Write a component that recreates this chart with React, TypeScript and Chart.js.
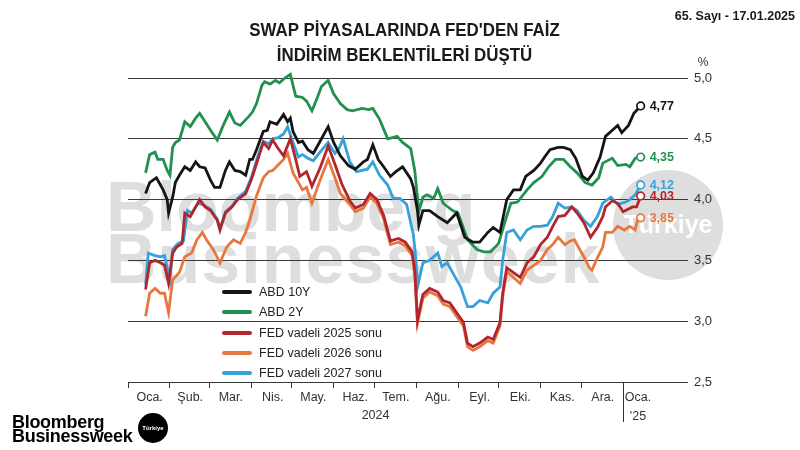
import React, { useEffect, useRef } from "react";
import { Chart, registerables } from "chart.js";

Chart.register(...registerables);

const FONT = '"Liberation Sans", Arial, Helvetica, sans-serif';

// ---- x axis: days since 1 Jan 2024 ----
const monthLabels = ["Oca.", "Şub.", "Mar.", "Nis.", "May.", "Haz.", "Tem.", "Ağu.", "Eyl.", "Eki.", "Kas.", "Ara."];
const monthStartDays = [0, 31, 60, 91, 121, 152, 182, 213, 244, 274, 305, 335];
const monthMidDays = [16, 46, 76, 107, 137, 168, 198, 229, 260, 290, 321, 351];
const nextYearLabel = ["Oca.", "'25"];
const nextYearStartDay = 366;
const nextYearLabelDay = 377;
const yearLabel = "2024";
const yearLabelDay = 183;
const xMaxDay = 414;

// ---- y axis ----
const yTickValues = [2.5, 3.0, 3.5, 4.0, 4.5, 5.0];

// ---- series (day, value) ----
const us10yDays = [13, 16, 21, 24, 26, 29, 30, 33, 35, 38, 42, 46, 50, 53, 57, 61, 64, 68, 72, 75, 79, 83, 87, 90, 92, 95, 100, 103, 105, 110, 115, 118, 120, 122, 126, 129, 133, 137, 142, 148, 152, 157, 163, 168, 174, 177, 181, 185, 189, 194, 198, 203, 209, 211, 214, 215, 218, 223, 229, 236, 243, 249, 255, 260, 266, 270, 275, 280, 285, 290, 294, 300, 305, 308, 312, 318, 322, 327, 331, 336, 340, 344, 349, 353, 357, 362, 365, 370, 374, 379];
const us10yValues = [4.05, 4.14, 4.18, 4.12, 4.08, 4.0, 3.89, 4.02, 4.14, 4.2, 4.27, 4.24, 4.31, 4.27, 4.26, 4.16, 4.1, 4.1, 4.24, 4.31, 4.24, 4.23, 4.2, 4.33, 4.33, 4.41, 4.56, 4.57, 4.64, 4.62, 4.7, 4.64, 4.67, 4.56, 4.47, 4.48, 4.41, 4.38, 4.48, 4.6, 4.47, 4.36, 4.28, 4.25, 4.31, 4.33, 4.45, 4.33, 4.27, 4.19, 4.23, 4.27, 4.17, 4.1, 3.91, 3.79, 3.91, 3.91, 3.86, 3.81, 3.89, 3.69, 3.65, 3.65, 3.73, 3.77, 3.73, 4.0, 4.08, 4.08, 4.19, 4.24, 4.3, 4.35, 4.41, 4.43, 4.43, 4.41, 4.34, 4.19, 4.16, 4.22, 4.35, 4.52, 4.56, 4.61, 4.55, 4.61, 4.71, 4.77];

const us2yDays = [13, 16, 20, 22, 26, 29, 31, 33, 35, 38, 42, 46, 50, 53, 57, 61, 66, 70, 75, 79, 83, 89, 92, 95, 99, 101, 105, 109, 112, 116, 120, 124, 129, 132, 136, 140, 143, 148, 152, 157, 162, 166, 173, 178, 181, 186, 192, 199, 203, 209, 212, 215, 218, 221, 226, 229, 233, 240, 244, 251, 258, 263, 268, 274, 279, 283, 288, 295, 300, 306, 311, 316, 322, 327, 332, 338, 343, 348, 351, 358, 362, 368, 371, 375, 379];
const us2yValues = [4.22, 4.37, 4.39, 4.33, 4.33, 4.24, 4.2, 4.43, 4.47, 4.49, 4.64, 4.6, 4.67, 4.71, 4.64, 4.57, 4.49, 4.6, 4.72, 4.63, 4.61, 4.68, 4.72, 4.79, 4.94, 4.97, 4.95, 4.98, 4.96, 5.0, 5.03, 4.85, 4.84, 4.81, 4.73, 4.84, 4.93, 4.98, 4.87, 4.79, 4.74, 4.73, 4.75, 4.74, 4.75, 4.66, 4.5, 4.52, 4.47, 4.42, 4.24, 3.9, 4.02, 4.04, 4.01, 4.09, 3.97, 3.91, 3.89, 3.67, 3.59, 3.57, 3.57, 3.64, 3.83, 3.97, 3.98, 4.08, 4.14, 4.19, 4.27, 4.33, 4.33, 4.27, 4.22, 4.14, 4.12, 4.18, 4.3, 4.34, 4.28, 4.29, 4.27, 4.34, 4.35];

const fed2025Days = [13, 16, 20, 24, 27, 30, 33, 36, 40, 42, 46, 50, 53, 57, 61, 66, 68, 72, 77, 81, 87, 90, 92, 96, 100, 104, 107, 111, 115, 120, 124, 127, 132, 136, 142, 148, 153, 158, 164, 168, 174, 179, 184, 189, 194, 200, 205, 210, 212, 214, 218, 223, 229, 233, 238, 243, 248, 251, 255, 260, 266, 270, 275, 277, 280, 285, 290, 295, 300, 305, 310, 314, 318, 323, 328, 332, 337, 342, 347, 351, 353, 358, 362, 366, 373, 376, 379];
const fed2025Values = [3.26, 3.48, 3.5, 3.48, 3.46, 3.31, 3.56, 3.61, 3.64, 3.89, 3.86, 3.94, 4.0, 3.94, 3.91, 3.83, 3.75, 3.89, 3.94, 4.0, 4.05, 4.13, 4.19, 4.33, 4.47, 4.42, 4.49, 4.42, 4.36, 4.5, 4.33, 4.19, 4.23, 4.11, 4.26, 4.44, 4.29, 4.13, 3.99, 3.93, 3.96, 4.05, 4.0, 3.87, 3.66, 3.68, 3.65, 3.57, 3.42, 3.01, 3.22, 3.27, 3.24, 3.17, 3.15, 3.07, 2.99, 2.82, 2.79, 2.82, 2.87, 2.85, 2.99, 3.23, 3.44, 3.4, 3.36, 3.48, 3.53, 3.63, 3.69, 3.78, 3.86, 3.87, 3.94, 3.89, 3.81, 3.69, 3.77, 3.86, 3.94, 3.99, 3.97, 3.9, 3.94, 3.94, 4.03];

const fed2026Days = [13, 16, 20, 24, 27, 30, 33, 38, 42, 47, 51, 55, 58, 63, 68, 73, 78, 83, 87, 90, 95, 100, 104, 107, 115, 118, 122, 129, 132, 136, 142, 148, 153, 157, 164, 168, 174, 179, 184, 189, 194, 200, 205, 210, 212, 214, 218, 223, 229, 233, 238, 243, 248, 251, 255, 260, 266, 270, 275, 277, 280, 285, 290, 295, 300, 305, 310, 314, 318, 323, 327, 330, 334, 337, 341, 343, 347, 351, 353, 358, 362, 367, 371, 375, 377, 379];
const fed2026Values = [3.04, 3.23, 3.27, 3.23, 3.23, 3.07, 3.34, 3.4, 3.53, 3.56, 3.67, 3.73, 3.67, 3.59, 3.48, 3.61, 3.67, 3.64, 3.73, 3.83, 4.03, 4.18, 4.23, 4.24, 4.33, 4.38, 4.22, 4.08, 4.1, 3.97, 4.16, 4.33, 4.18, 4.05, 3.96, 3.9, 3.93, 4.02, 3.97, 3.84, 3.63, 3.65, 3.62, 3.54, 3.39, 2.98, 3.19, 3.24, 3.21, 3.14, 3.12, 3.04, 2.96, 2.79, 2.76, 2.79, 2.84, 2.82, 2.96, 3.2, 3.41, 3.36, 3.31, 3.42, 3.46, 3.5, 3.59, 3.63, 3.69, 3.63, 3.66, 3.67, 3.59, 3.53, 3.44, 3.42, 3.52, 3.61, 3.73, 3.73, 3.78, 3.75, 3.78, 3.75, 3.85, 3.85];

const fed2027Days = [13, 15, 20, 24, 27, 31, 33, 37, 41, 44, 47, 52, 57, 61, 66, 68, 72, 77, 81, 87, 90, 92, 96, 100, 104, 107, 111, 115, 118, 122, 126, 129, 133, 137, 142, 148, 153, 156, 159, 164, 169, 177, 181, 186, 192, 196, 201, 206, 211, 213, 214, 218, 223, 229, 232, 236, 240, 246, 251, 255, 260, 266, 270, 275, 277, 280, 285, 290, 295, 300, 305, 310, 314, 318, 323, 328, 332, 337, 342, 347, 351, 357, 362, 368, 371, 375, 379];
const fed2027Values = [3.3, 3.56, 3.54, 3.53, 3.54, 3.34, 3.59, 3.64, 3.66, 3.91, 3.89, 3.97, 3.95, 3.92, 3.84, 3.76, 3.9, 3.95, 4.01, 4.07, 4.15, 4.21, 4.36, 4.48, 4.46, 4.5, 4.51, 4.54, 4.6, 4.47, 4.35, 4.37, 4.34, 4.32, 4.39, 4.47, 4.38, 4.42, 4.5, 4.31, 4.23, 4.25, 4.31, 4.2, 4.12, 4.01, 4.01, 3.96, 3.71, 3.49, 3.28, 3.48, 3.5, 3.56, 3.45, 3.48, 3.4, 3.28, 3.12, 3.12, 3.17, 3.15, 3.23, 3.28, 3.5, 3.73, 3.75, 3.67, 3.75, 3.78, 3.78, 3.79, 3.86, 3.97, 3.93, 3.94, 3.91, 3.83, 3.78, 3.86, 3.97, 4.02, 3.96, 3.98, 4.0, 4.04, 4.12];

const seriesNames = ["ABD 10Y", "ABD 2Y", "FED vadeli 2025 sonu", "FED vadeli 2026 sonu", "FED vadeli 2027 sonu"];
const seriesColors = ["#151515", "#22904e", "#b3252d", "#e8773f", "#35a2d9"];
const seriesDays = [us10yDays, us2yDays, fed2025Days, fed2026Days, fed2027Days];
const seriesValues = [us10yValues, us2yValues, fed2025Values, fed2026Values, fed2027Values];

const fmt = (v: number, d: number) => v.toFixed(d).replace(".", ",");

export default function App() {
  const canvasRef = useRef<HTMLCanvasElement | null>(null);

  useEffect(() => {
    document.body.style.margin = "0";
    const canvas = canvasRef.current;
    if (!canvas) return;

    const boundarySet = new Set<number>(monthStartDays);
    const labelMap = new Map<number, string | string[]>();
    monthMidDays.forEach((d, i) => labelMap.set(d, monthLabels[i]));
    labelMap.set(nextYearLabelDay, nextYearLabel);
    const allTicks = [...monthStartDays, ...monthMidDays, nextYearLabelDay].sort((a, b) => a - b);

    const datasets = seriesNames.map((name, i) => {
      const days = seriesDays[i];
      const vals = seriesValues[i];
      const last = days.length - 1;
      return {
        label: name,
        data: days.map((d, j) => ({ x: d, y: vals[j] })),
        borderColor: seriesColors[i],
        backgroundColor: seriesColors[i],
        borderWidth: 2.8,
        tension: 0,
        clip: false as any,
        pointRadius: (c: any) => (c.dataIndex === last ? 3.8 : 0),
        pointBackgroundColor: "#ffffff",
        pointBorderColor: seriesColors[i],
        pointBorderWidth: 1.7,
        pointHoverRadius: 0,
      };
    });

    const extras = {
      id: "extras",
      beforeDraw(chart: any) {
        const { ctx } = chart;
        ctx.save();
        ctx.fillStyle = "#dedede";
        ctx.font = `bold 70px ${FONT}`;
        ctx.textAlign = "left";
        ctx.textBaseline = "alphabetic";
        ctx.fillText("Bloomberg", 106, 231);
        (ctx as any).letterSpacing = "1px";
        ctx.fillText("Businessweek", 106, 283);
        (ctx as any).letterSpacing = "0px";
        ctx.beginPath();
        ctx.arc(668, 225, 55, 0, Math.PI * 2);
        ctx.fill();
        ctx.fillStyle = "#ffffff";
        ctx.font = `bold 25px ${FONT}`;
        ctx.textAlign = "center";
        ctx.textBaseline = "middle";
        ctx.fillText("Türkiye", 668, 226);
        ctx.restore();
      },
      afterDatasetsDraw(chart: any) {
        const { ctx } = chart;
        ctx.save();
        ctx.font = `bold 12.5px ${FONT}`;
        ctx.textAlign = "left";
        ctx.textBaseline = "middle";
        chart.data.datasets.forEach((ds: any, i: number) => {
          const meta = chart.getDatasetMeta(i);
          const pt = meta.data[meta.data.length - 1];
          const v = seriesValues[i][seriesValues[i].length - 1];
          ctx.fillStyle = ds.borderColor;
          ctx.fillText(fmt(v, 2), pt.x + 9, pt.y + 1);
        });
        ctx.restore();
      },
      afterDraw(chart: any) {
        const { ctx, chartArea, scales } = chart;
        ctx.save();
        ctx.fillStyle = "#333";
        ctx.font = `12px ${FONT}`;
        ctx.textAlign = "center";
        ctx.textBaseline = "middle";
        ctx.fillText("%", chartArea.right + 15, chartArea.top - 15);
        ctx.font = `12.5px ${FONT}`;
        ctx.fillText(yearLabel, scales.x.getPixelForValue(yearLabelDay), chartArea.bottom + 34);
        const sx = Math.round(scales.x.getPixelForValue(nextYearStartDay)) + 0.5;
        ctx.strokeStyle = "#333";
        ctx.lineWidth = 1;
        ctx.beginPath();
        ctx.moveTo(sx, chartArea.bottom);
        ctx.lineTo(sx, chartArea.bottom + 40);
        ctx.stroke();
        ctx.restore();
      },
    };

    const chart = new Chart(canvas, {
      type: "line",
      data: { datasets: datasets as any },
      options: {
        responsive: false,
        animation: false,
        events: [],
        layout: { padding: { left: 128, top: 78, right: 0, bottom: 0 } },
        plugins: { legend: { display: false }, tooltip: { enabled: false } },
        scales: {
          x: {
            type: "linear",
            position: "bottom",
            min: 0,
            max: xMaxDay,
            afterBuildTicks: (s: any) => {
              s.ticks = allTicks.map((v) => ({ value: v }));
            },
            afterFit: (s: any) => {
              s.height = 68;
            },
            border: { display: false },
            grid: {
              display: true,
              drawOnChartArea: false,
              drawTicks: true,
              tickLength: 6,
              tickWidth: 1,
              tickColor: (c: any) => (c.tick && boundarySet.has(c.tick.value) ? "#333" : "rgba(0,0,0,0)"),
            },
            ticks: {
              autoSkip: false,
              maxRotation: 0,
              minRotation: 0,
              padding: 0,
              color: "#333",
              font: { family: FONT, size: 12.5, lineHeight: 1.5 },
              callback: (v: any) => (labelMap.has(v) ? (labelMap.get(v) as any) : ""),
            },
          },
          y: {
            type: "linear",
            position: "right",
            min: 2.5,
            max: 5.0,
            afterBuildTicks: (s: any) => {
              s.ticks = yTickValues.map((v) => ({ value: v }));
            },
            afterFit: (s: any) => {
              s.width = 112;
            },
            border: { display: false },
            grid: { color: "#3a3a3a", lineWidth: 1, drawTicks: false },
            ticks: {
              padding: 6,
              color: "#333",
              font: { family: FONT, size: 13 },
              callback: (v: any) => fmt(Number(v), 1),
            },
          },
        },
      },
      plugins: [extras],
    });

    return () => chart.destroy();
  }, []);

  return (
    <div style={{ position: "relative", width: 800, height: 450, overflow: "hidden", background: "#ffffff", fontFamily: FONT }}>
      <canvas ref={canvasRef} width={800} height={450} style={{ position: "absolute", left: 0, top: 0, width: 800, height: 450 }} />
      <div style={{ position: "absolute", left: 0, top: 17, width: 810, textAlign: "center", fontWeight: 700, fontSize: 19, lineHeight: "25px", color: "#1a1a1a" }}>
        <div style={{ display: "inline-block", transform: "scaleX(0.89)", whiteSpace: "nowrap" }}>
          SWAP PİYASALARINDA FED'DEN FAİZ
          <br />
          İNDİRİM BEKLENTİLERİ DÜŞTÜ
        </div>
      </div>
      <div style={{ position: "absolute", right: 5, top: 9, fontWeight: 700, fontSize: 12.5, color: "#1a1a1a", whiteSpace: "nowrap" }}>
        65. Sayı - 17.01.2025
      </div>
      <div style={{ position: "absolute", left: 222, top: 282, fontSize: 12.5, color: "#222" }}>
        {seriesNames.map((n, i) => (
          <div key={n} style={{ height: 20.25, display: "flex", alignItems: "center", whiteSpace: "nowrap" }}>
            <span style={{ display: "inline-block", width: 30, height: 4, borderRadius: 2, background: seriesColors[i], marginRight: 7 }} />
            {n}
          </div>
        ))}
      </div>
      <div style={{ position: "absolute", left: 12, top: 415, fontWeight: 700, fontSize: 18, lineHeight: "14px", letterSpacing: "-0.3px", color: "#000" }}>
        Bloomberg
        <br />
        Businessweek
      </div>
      <div style={{ position: "absolute", left: 138, top: 413, width: 30, height: 30, borderRadius: 15, background: "#000", color: "#fff", fontSize: 6, fontWeight: 700, display: "flex", alignItems: "center", justifyContent: "center" }}>
        Türkiye
      </div>
    </div>
  );
}
